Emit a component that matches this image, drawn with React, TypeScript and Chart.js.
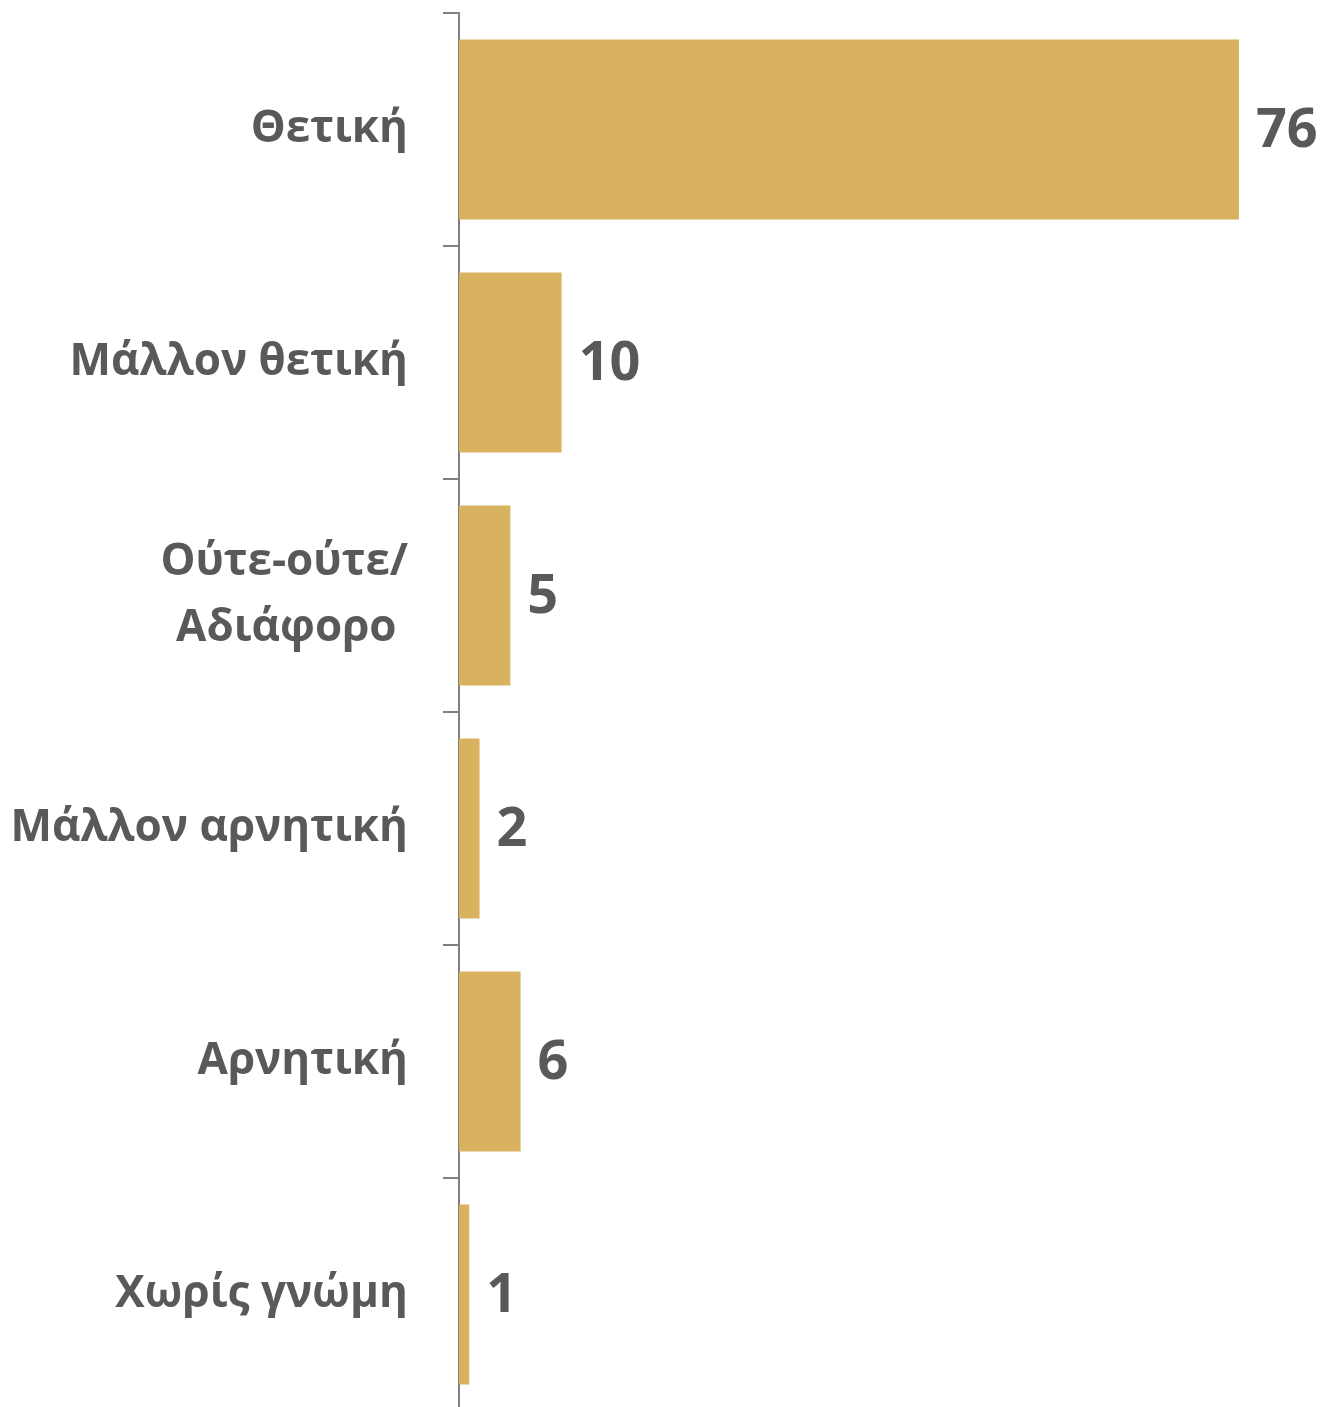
import React, { useEffect, useRef } from "react";
import { Chart, registerables } from "chart.js";

Chart.register(...registerables);

const categories: (string | string[])[] = [
  "Θετική",
  "Μάλλον θετική",
  ["Ούτε-ούτε/", "Αδιάφορο "],
  "Μάλλον αρνητική",
  "Αρνητική",
  "Χωρίς γνώμη",
];
const values: number[] = [76, 10, 5, 2, 6, 1];

const BAR_COLOR = "#D8B25E";
const TEXT_COLOR = "#595959";
const AXIS_COLOR = "#808080";
const FONT_FAMILY = "'Open Sans', 'Noto Sans', sans-serif";

const valueLabels = {
  id: "valueLabels",
  afterDatasetsDraw(chart: any) {
    const ctx = chart.ctx;
    const meta = chart.getDatasetMeta(0);
    ctx.save();
    ctx.font = `bold 54px ${FONT_FAMILY}`;
    ctx.fillStyle = TEXT_COLOR;
    ctx.textAlign = "left";
    ctx.textBaseline = "middle";
    meta.data.forEach((bar: any, i: number) => {
      ctx.fillText(String(values[i]), bar.x + 17, bar.y + 2);
    });
    ctx.restore();
  },
};

export default function App() {
  const ref = useRef<HTMLCanvasElement | null>(null);
  useEffect(() => {
    document.body.style.margin = "0";
    const canvas = ref.current!;
    const chart = new Chart(canvas, {
      type: "bar",
      data: {
        labels: categories,
        datasets: [
          {
            data: values,
            backgroundColor: BAR_COLOR,
            borderWidth: 0,
            barPercentage: 0.772,
            categoryPercentage: 1,
          },
        ],
      },
      options: {
        indexAxis: "y",
        responsive: false,
        animation: false,
        devicePixelRatio: 1,
        layout: { padding: { top: 13, bottom: 9, left: 0, right: 49 } },
        plugins: {
          legend: { display: false },
          tooltip: { enabled: false },
        },
        scales: {
          x: { display: false, min: 0, max: 80 },
          y: {
            afterFit: (scale: any) => {
              scale.width = 459;
              scale.paddingTop = 0;
              scale.paddingBottom = 0;
            },
            grid: {
              offset: true,
              drawOnChartArea: false,
              drawTicks: true,
              tickLength: 16,
              color: AXIS_COLOR,
              lineWidth: 2,
            },
            border: { display: true, color: AXIS_COLOR, width: 2 },
            ticks: {
              color: TEXT_COLOR,
              padding: 35,
              font: { family: FONT_FAMILY, size: 44, weight: "bold", lineHeight: 1.5 },
            },
          },
        },
      },
      plugins: [valueLabels],
    });
    return () => chart.destroy();
  }, []);
  return (
    <div style={{ position: "absolute", left: 0, top: 0, width: 1329, height: 1407, overflow: "hidden", background: "#fff" }}>
      <canvas ref={ref} width={1329} height={1420} style={{ display: "block", width: 1329, height: 1420 }} />
    </div>
  );
}
